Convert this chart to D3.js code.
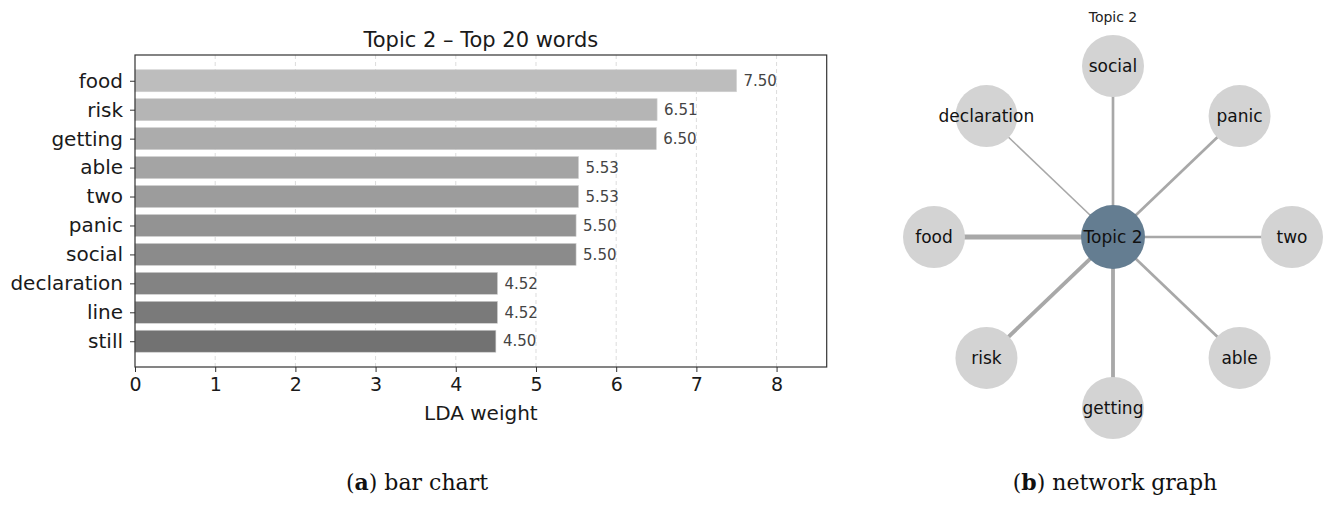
<!DOCTYPE html>
<html>
<head>
<meta charset="utf-8">
<script src="https://cdn.jsdelivr.net/npm/d3@7"></script>
<style>
  body { margin: 0; background: #fff; }
  svg { display: block; }
</style>
</head>
<body>
<script>
// top words of topic 2 and their LDA weights
let words = ["food", "risk", "getting", "able", "two", "panic", "social", "declaration", "line", "still"];
let weights = [7.50, 6.51, 6.50, 5.53, 5.53, 5.50, 5.50, 4.52, 4.52, 4.50];
let xTicks = [0, 1, 2, 3, 4, 5, 6, 7, 8];
let topicName = "Topic 2";
let graphWords = words.slice(0, 8);
let graphWeights = weights.slice(0, 8);

let width = 1325, height = 506;
let sans = "DejaVu Sans, Verdana, sans-serif";
let serif = "DejaVu Serif, Liberation Serif, serif";

let svg = d3.select("body")
  .append("svg")
    .attr("width", width)
    .attr("height", height);

// ---------- (a) bar chart ----------
let plot = { left: 135, right: 826.7, top: 55, bottom: 367 };

let x = d3.scaleLinear()
    .domain([0, d3.max(weights) * 1.15])
    .range([plot.left, plot.right]);
let y = d3.scaleLinear()
    .domain([-0.89, words.length - 1 + 0.89])
    .range([plot.top, plot.bottom]);
let barH = (y(1) - y(0)) * 0.76;
let shade = d3.interpolateRgb("#bdbdbd", "#727272");

// dashed grid
svg.append("g")
  .selectAll("line")
  .data(xTicks.slice(1))
  .join("line")
    .attr("x1", d => x(d)).attr("x2", d => x(d))
    .attr("y1", plot.top).attr("y2", plot.bottom)
    .attr("stroke", "#dcdcdc")
    .attr("stroke-width", 1)
    .attr("stroke-dasharray", "4,3");

svg.append("g")
  .selectAll("rect")
  .data(weights)
  .join("rect")
    .attr("x", x(0))
    .attr("y", (d, i) => y(i) - barH / 2)
    .attr("width", d => x(d) - x(0))
    .attr("height", barH)
    .attr("fill", (d, i) => shade(i / (words.length - 1)))
    .attr("stroke", "#d0d0d0")
    .attr("stroke-width", 0.6);

svg.append("g")
  .selectAll("text")
  .data(weights)
  .join("text")
    .attr("x", d => x(d) + 7)
    .attr("y", (d, i) => y(i))
    .attr("dy", "0.35em")
    .attr("font-family", sans)
    .attr("font-size", 15)
    .attr("fill", "#444")
    .text(d => d.toFixed(2));

// axes
let xAxis = svg.append("g")
  .attr("transform", `translate(0,${plot.bottom})`)
  .call(d3.axisBottom(x).tickValues(xTicks).tickFormat(d3.format("d")).tickSize(5).tickPadding(6));
let yAxis = svg.append("g")
  .attr("transform", `translate(${plot.left},0)`)
  .call(d3.axisLeft(y).tickValues(d3.range(words.length)).tickFormat(i => words[i]).tickSize(5).tickPadding(7));
[xAxis, yAxis].forEach(a => {
  a.select(".domain").remove();
  a.selectAll(".tick line").attr("stroke", "#333");
  a.selectAll(".tick text").attr("font-family", sans).attr("fill", "#1a1a1a");
});
xAxis.selectAll(".tick text").attr("font-size", 19);
yAxis.selectAll(".tick text").attr("font-size", 20);

svg.append("rect")
  .attr("x", plot.left).attr("y", plot.top)
  .attr("width", plot.right - plot.left).attr("height", plot.bottom - plot.top)
  .attr("fill", "none")
  .attr("stroke", "#333")
  .attr("stroke-width", 1.2);

svg.append("text")
  .attr("x", (plot.left + plot.right) / 2).attr("y", 47)
  .attr("text-anchor", "middle")
  .attr("font-family", sans).attr("font-size", 21).attr("fill", "#1a1a1a")
  .text(topicName + " \u2013 Top 20 words");

svg.append("text")
  .attr("x", (plot.left + plot.right) / 2).attr("y", 420)
  .attr("text-anchor", "middle")
  .attr("font-family", sans).attr("font-size", 20).attr("fill", "#1a1a1a")
  .text("LDA weight");

// ---------- (b) network graph ----------
let cx = d3.scaleLinear().domain([-1, 1]).range([934, 1292]);
let cy = d3.scaleLinear().domain([-1, 1]).range([408, 66]);
let edgeW = d3.scaleLinear().domain([4.5, 7.5]).range([1.5, 5]);

let nodes = graphWords.map((w, i) => {
  let a = Math.PI + i * 2 * Math.PI / graphWords.length;
  return { word: w, weight: graphWeights[i], px: cx(Math.cos(a)), py: cy(Math.sin(a)) };
});
let hub = { px: cx(0), py: cy(0) };

svg.append("g")
  .selectAll("line")
  .data(nodes)
  .join("line")
    .attr("x1", hub.px).attr("y1", hub.py)
    .attr("x2", d => d.px).attr("y2", d => d.py)
    .attr("stroke", "#a8a8a8")
    .attr("stroke-width", d => edgeW(d.weight));

svg.append("g")
  .selectAll("circle")
  .data(nodes)
  .join("circle")
    .attr("cx", d => d.px).attr("cy", d => d.py)
    .attr("r", 31)
    .attr("fill", "#d3d3d3");

svg.append("circle")
  .attr("cx", hub.px).attr("cy", hub.py)
  .attr("r", 32)
  .attr("fill", "#647d91");

svg.append("g")
  .selectAll("text")
  .data(nodes.concat([{ word: topicName, px: hub.px, py: hub.py }]))
  .join("text")
    .attr("x", d => d.px).attr("y", d => d.py)
    .attr("dy", "0.35em")
    .attr("text-anchor", "middle")
    .attr("font-family", sans).attr("font-size", 17).attr("fill", "#111")
    .text(d => d.word);

svg.append("text")
  .attr("x", hub.px).attr("y", 22)
  .attr("text-anchor", "middle")
  .attr("font-family", sans).attr("font-size", 14).attr("fill", "#222")
  .text(topicName);

// ---------- captions ----------
let captions = [
  { tag: "a", label: " bar chart", cxp: 417 },
  { tag: "b", label: " network graph", cxp: 1115 }
];
captions.forEach(c => {
  let t = svg.append("text")
    .attr("x", c.cxp).attr("y", 490)
    .attr("text-anchor", "middle")
    .attr("font-family", serif).attr("font-size", 22).attr("fill", "#111");
  t.append("tspan").text("(");
  t.append("tspan").attr("font-weight", "bold").text(c.tag);
  t.append("tspan").text(")" + c.label);
});
</script>
</body>
</html>
